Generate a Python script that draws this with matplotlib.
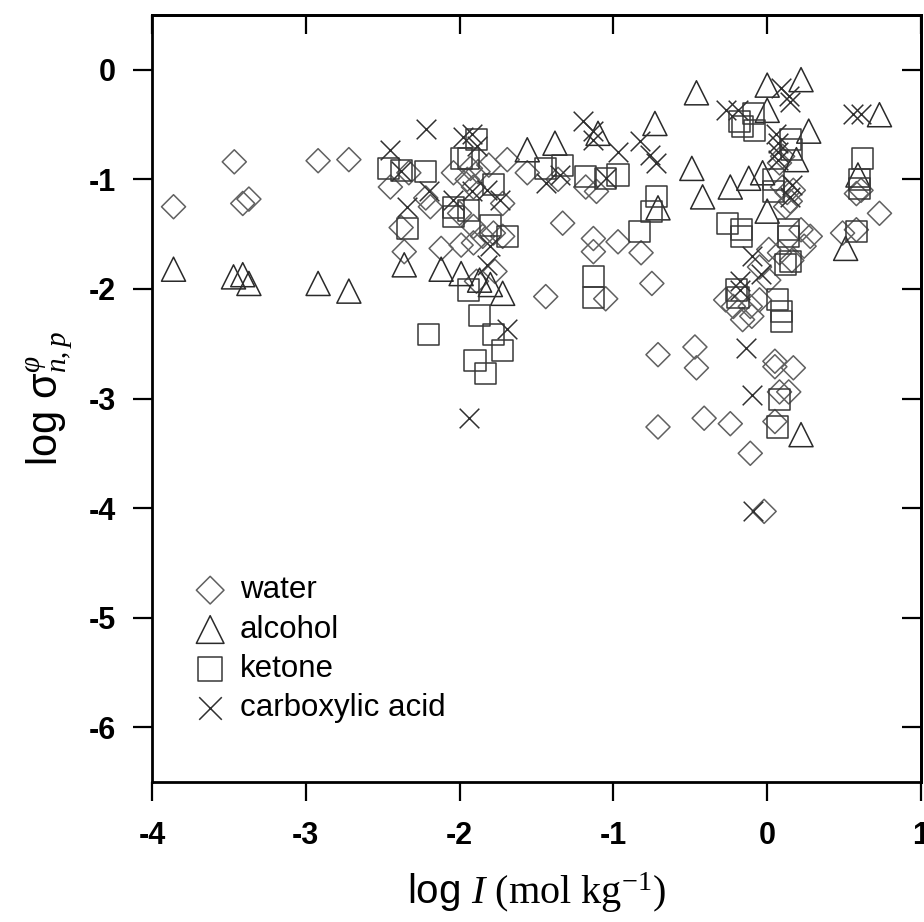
import matplotlib
matplotlib.use("Agg")
import matplotlib.pyplot as plt

plt.rcParams['font.family'] = ['Liberation Sans', 'DejaVu Sans']
plt.rcParams['mathtext.fontset'] = 'custom'
plt.rcParams['mathtext.rm'] = 'Liberation Serif'
plt.rcParams['mathtext.it'] = 'Liberation Serif:italic'

# values: (log I, log sigma)
water_x = [-3.86, -3.465, -3.41, -3.37, -2.92, -2.72,
           -2.33, -2.45, -2.22, -2.19, -2.38, -2.36, -2.12, -2.04,
           -1.93, -1.88, -1.81, -1.69, -1.56, -1.95, -1.91, -1.72, -2.00, -1.91,
           -1.85, -1.78, -1.72, -1.99, -1.91, -1.77, -1.89, -1.44,
           -1.36, -1.18, -1.11, -1.33, -1.13, -1.13, -0.97, -0.82, -1.05, -0.75,
           0.08, 0.10, 0.58, 0.61, 0.73, 0.10, 0.13, 0.15, 0.12, 0.17,
           0.22, 0.28, 0.24, 0.49, 0.58,
           0.01, 0.01, 0.08, -0.05, 0.16,
           -0.27, -0.22, -0.11, -0.05, -0.16, -0.10,
           -0.71, -0.47, -0.46, 0.05, 0.05, 0.17, 0.08, 0.14,
           -0.71, -0.41, -0.24, 0.05, -0.11, -0.02]
water_y = [-1.25, -0.84, -1.22, -1.18, -0.83, -0.82,
           -0.94, -1.07, -1.17, -1.25, -1.44, -1.66, -1.63, -0.94,
           -0.90, -0.93, -0.87, -0.82, -0.94, -1.00, -1.07, -1.22, -1.31, -1.43,
           -1.52, -1.49, -1.52, -1.60, -1.58, -1.84, -1.93, -2.07,
           -1.00, -1.07, -1.11, -1.40, -1.54, -1.66, -1.57, -1.67, -2.09, -1.95,
           -0.85, -0.79, -1.13, -1.10, -1.31, -1.07, -1.12, -1.20, -1.25, -1.10,
           -1.46, -1.52, -1.61, -1.49, -1.46,
           -1.64, -1.92, -1.67, -1.80, -1.74,
           -2.10, -2.16, -2.16, -2.10, -2.28, -2.25,
           -2.60, -2.53, -2.72, -2.66, -2.71, -2.72, -2.94, -2.94,
           -3.26, -3.18, -3.23, -3.21, -3.50, -4.03]

alcohol_x = [-3.86, -3.47, -3.41, -3.37, -2.92, -2.72,
             -2.36, -2.12, -1.99, -1.87, -1.80, -1.72,
             -1.56, -1.38, -1.10, -0.73, -0.71, -0.46, -0.49, -0.42, -0.24,
             -0.12, -0.03, 0.0, 0.0, 0.22, 0.0, 0.27, 0.19, 0.73, 0.59, 0.51, 0.22]
alcohol_y = [-1.82, -1.89, -1.87, -1.95, -1.95, -2.02,
             -1.78, -1.82, -1.86, -1.92, -1.96, -2.04,
             -0.73, -0.67, -0.58, -0.49, -1.26, -0.21, -0.90, -1.16, -1.07,
             -0.99, -0.94, -1.29, -0.14, -0.09, -0.37, -0.56, -0.82, -0.41, -0.96, -1.63, -3.33]

ketone_x = [-2.20, -2.46, -2.38, -2.22, -2.34, -2.04, -2.04, -1.94,
            -1.89, -1.99, -1.94, -1.78, -1.80, -1.69, -1.94, -1.87, -1.78, -1.72, -1.90, -1.83,
            -1.44, -1.33, -1.18, -1.05, -0.97, -0.72, -0.75, -0.83, -1.13, -1.13,
            -0.26, -0.17, -0.17, -0.18, -0.09, -0.08, -0.16, 0.15, 0.16, 0.62, 0.60, 0.60,
            0.04, 0.04, 0.14, 0.14, 0.58, 0.12, 0.15, -0.20, -0.19, 0.07, 0.09, 0.09, 0.08, 0.07]
ketone_y = [-2.42, -0.90, -0.92, -0.93, -1.45, -1.26, -1.34, -1.28,
            -0.64, -0.81, -0.81, -1.05, -1.42, -1.52, -2.01, -2.24, -2.42, -2.56, -2.65, -2.77,
            -0.90, -0.87, -0.97, -0.99, -0.96, -1.16, -1.29, -1.48, -1.89, -2.08,
            -1.40, -1.46, -1.52, -0.47, -0.40, -0.55, -0.52, -0.64, -0.73, -0.81, -1.00, -1.08,
            -1.00, -1.11, -1.46, -1.52, -1.48, -1.78, -1.75, -2.01, -2.08, -2.10, -2.21, -2.30, -3.01, -3.26]

acid_x = [-2.45, -2.38, -2.20, -2.34, -2.22, -1.98, -1.92, -1.89, -1.92, -1.82, -2.04, -1.74,
          -1.80, -1.82, -1.69, -1.94,
          -1.44, -1.20, -1.13, -1.13, -0.97, -0.83, -0.76, -0.72, -1.35, -1.05,
          0.09, 0.14, 0.15, -0.27, -0.19, 0.06, 0.07, 0.07, 0.07, 0.56, 0.61, 0.16, 0.15,
          -0.10, -0.04, -0.18, -0.18, -0.14, -0.10, -0.09]
acid_y = [-0.73, -0.92, -1.11, -1.25, -0.54, -0.61, -0.59, -0.70, -1.11, -1.10, -1.19, -1.19,
          -1.61, -1.78, -2.37, -3.18,
          -1.03, -0.47, -0.56, -0.64, -0.75, -0.65, -0.78, -0.85, -0.96, -0.99,
          -0.17, -0.24, -0.29, -0.37, -0.37, -0.59, -0.67, -0.75, -0.82, -0.40, -0.40, -1.05, -1.16,
          -1.70, -1.86, -1.93, -2.01, -2.54, -2.97, -4.03]

xticks = [-4, -3, -2, -1, 0, 1]
yticks = [-6, -5, -4, -3, -2, -1, 0]

fig = plt.figure(figsize=(9.24, 9.22), dpi=100)
ax = fig.add_axes([152 / 924, 1 - 782 / 922, 769 / 924, 767 / 922])

ax.scatter(water_x, water_y, marker='D', s=150, facecolors='none', edgecolors='#606060',
           linewidths=1.1, label='water', zorder=3)
ax.scatter(alcohol_x, alcohol_y, marker='^', s=300, facecolors='none', edgecolors='#2a2a2a',
           linewidths=1.1, label='alcohol', zorder=3)
ax.scatter(ketone_x, ketone_y, marker='s', s=230, facecolors='none', edgecolors='#383838',
           linewidths=1.1, label='ketone', zorder=3)
ax.scatter(acid_x, acid_y, marker='x', s=200, color='#303030',
           linewidths=1.1, label='carboxylic acid', zorder=3)

ax.set_xlim(-4, 1)
ax.set_ylim(-6.5, 0.5)
ax.set_xticks(xticks)
ax.set_yticks(yticks)
ax.set_xticklabels([str(t) for t in xticks], fontweight='bold')
ax.set_yticklabels([str(t) for t in yticks], fontweight='bold')
ax.tick_params(direction='out', length=14, width=1.6, labelsize=22)
ax.tick_params(axis='x', pad=14)
ax.tick_params(axis='y', pad=12)
for sp in ax.spines.values():
    sp.set_linewidth(2)

# inward ticks on top and right
top = ax.secondary_xaxis('top')
top.set_xticks(xticks)
top.set_xticklabels([])
top.tick_params(direction='in', length=14, width=1.6)
right = ax.secondary_yaxis('right')
right.set_yticks(yticks)
right.set_yticklabels([])
right.tick_params(direction='in', length=14, width=1.6)
for s in (top, right):
    for sp in s.spines.values():
        sp.set_linewidth(2)

ax.set_xlabel(r'log $\mathit{I}\ \mathrm{(mol\ kg^{-1})}$', fontsize=29, labelpad=14)
ax.set_ylabel(r'log σ$^{\varphi}_{n,p}$', fontsize=30, labelpad=10)

leg = ax.legend(loc='lower left', bbox_to_anchor=(0.035, 0.06), frameon=False, fontsize=22.5,
                handletextpad=0.35, labelspacing=0.3, borderaxespad=0, scatterpoints=1,
                handlelength=1.2, markerscale=1.15)

fig.savefig('out.png', dpi=100)
